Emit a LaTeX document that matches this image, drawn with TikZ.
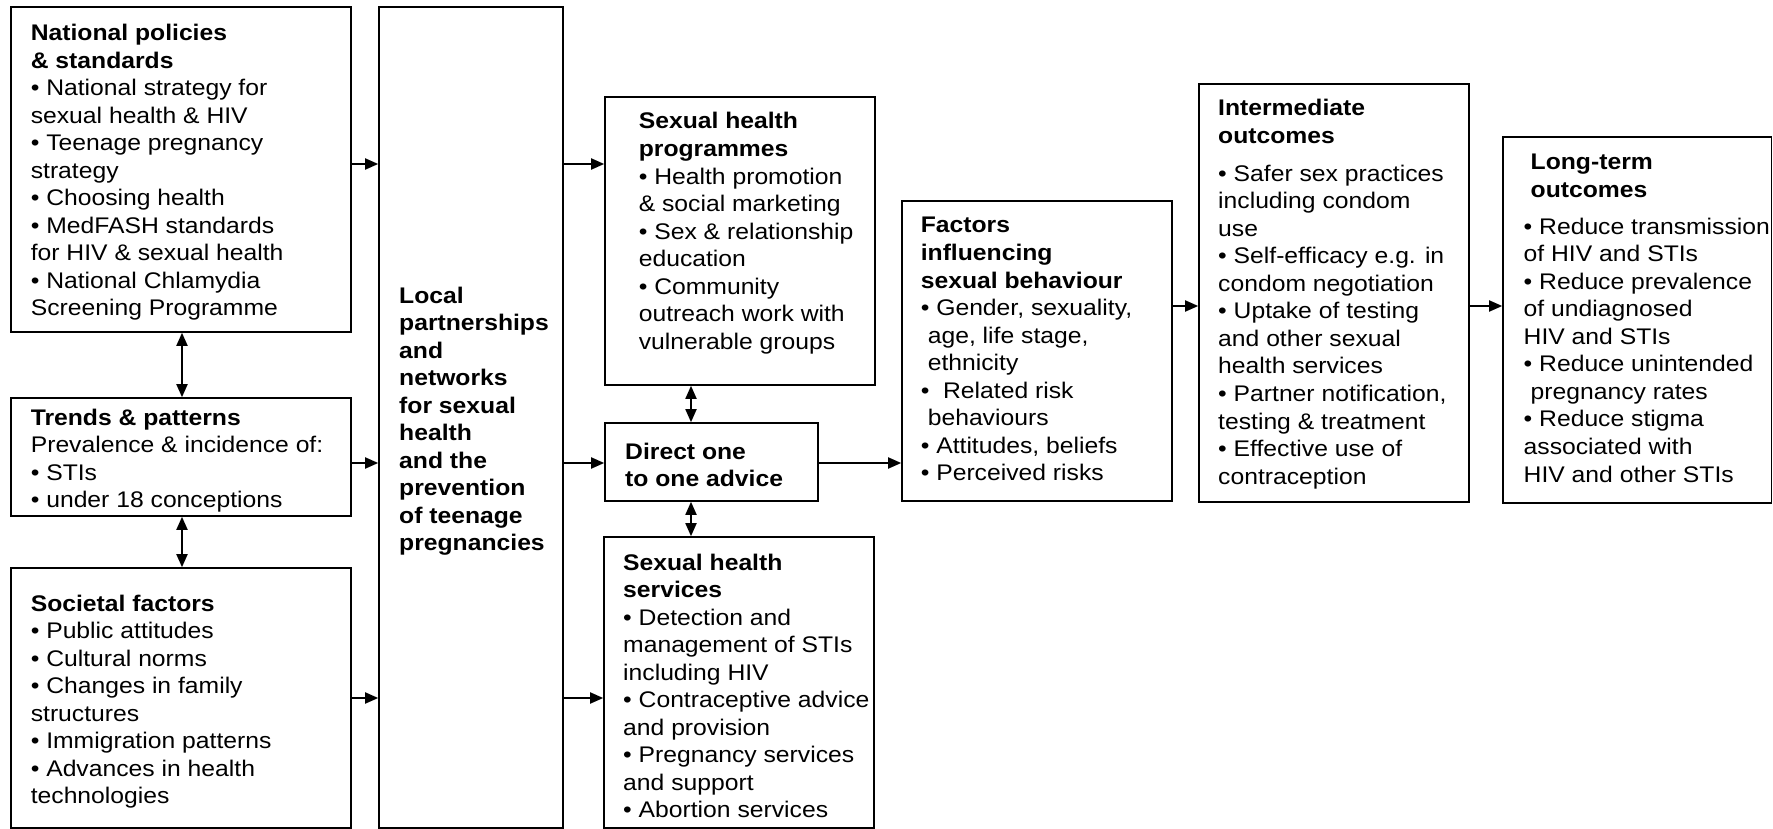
\documentclass[tikz,border=0pt]{standalone}
\usepackage{fontspec}
\setmainfont[FakeStretch=1.093]{Liberation Sans}
\usetikzlibrary{arrows.meta,fit}
\newcommand\blines[1]{\begin{tabular}[t]{@{}l@{}}#1\end{tabular}}
\begin{document}
\begin{tikzpicture}[x=1pt,y=-1pt,
  box/.style={draw, line width=1.6pt, inner sep=0pt},
  txt/.style={inner sep=0pt, anchor=base west, font=\fontsize{22.6}{27.55}\selectfont},
  arr/.style={line width=1.8pt, -{Triangle[length=13pt,width=11pt]}},
  darr/.style={line width=1.8pt, {Triangle[length=13pt,width=11pt]}-{Triangle[length=13pt,width=11pt]}}]
\useasboundingbox (0,0) rectangle (1773,829);
% boxes
\node[box, fit={(10.7,7) (351,332)}] (nat) {};
\node[box, fit={(379,7) (563,828)}] (loc) {};
\node[box, fit={(10.7,398) (351,516)}] (tre) {};
\node[box, fit={(10.7,568) (351,828)}] (soc) {};
\node[box, fit={(605,97) (875,385)}] (prog) {};
\node[box, fit={(605,423) (818,501)}] (dir) {};
\node[box, fit={(604,537) (874,828)}] (serv) {};
\node[box, fit={(902,201) (1172,501)}] (fac) {};
\node[box, fit={(1199,84) (1469,502)}] (inter) {};
\node[box, fit={(1503,137) (1771.5,503)}] (long) {};
% texts
\node[txt] (natT) at (30.6,40.5) {\blines{\textbf{National policies}\\ \textbf{\& standards}\\ • National strategy for\\ sexual health \& HIV\\ • Teenage pregnancy\\ strategy\\ • Choosing health\\ • MedFASH standards\\ for HIV \& sexual health\\ • National Chlamydia\\ Screening Programme}};
\node[txt] (treT) at (30.6,425) {\blines{\textbf{Trends \& patterns}\\ Prevalence \& incidence of:\\ • STIs\\ • under 18 conceptions}};
\node[txt] (socT) at (30.6,611) {\blines{\textbf{Societal factors}\\ • Public attitudes\\ • Cultural norms\\ • Changes in family\\ structures\\ • Immigration patterns\\ • Advances in health\\ technologies}};
\node[txt] (locT) at (399,303) {\blines{\textbf{Local}\\ \textbf{partnerships}\\ \textbf{and}\\ \textbf{networks}\\ \textbf{for sexual}\\ \textbf{health}\\ \textbf{and the}\\ \textbf{prevention}\\ \textbf{of teenage}\\ \textbf{pregnancies}}};
\node[txt] (progT) at (638.6,129) {\blines{\textbf{Sexual health}\\ \textbf{programmes}\\ • Health promotion\\ \& social marketing\\ • Sex \& relationship\\ education\\ • Community\\ outreach work with\\ vulnerable groups}};
\node[txt] (dirT) at (625,459) {\blines{\textbf{Direct one}\\ \textbf{to one advice}}};
\node[txt] (servT) at (623,570) {\blines{\textbf{Sexual health}\\ \textbf{services}\\ • Detection and\\ management of STIs\\ including HIV\\ • Contraceptive advice\\ and provision\\ • Pregnancy services\\ and support\\ • Abortion services}};
\node[txt] (facT) at (920.6,233) {\blines{\textbf{Factors}\\ \textbf{influencing}\\ \textbf{sexual behaviour}\\ • Gender, sexuality,\\ \hspace*{7pt}age, life stage,\\ \hspace*{7pt}ethnicity\\ •\ \ Related risk\\ \hspace*{7pt}behaviours\\ • Attitudes, beliefs\\ • Perceived risks}};
\node[txt] (interT) at (1218,116) {\blines{\textbf{Intermediate}\\ \textbf{outcomes}\\[10pt] • Safer sex practices\\ including condom\\ use\\ • Self-efficacy e.g. in\\ condom negotiation\\ • Uptake of testing\\ and other sexual\\ health services\\ • Partner notification,\\ testing \& treatment\\ • Effective use of\\ contraception}};
\node[txt] (longT) at (1523.5,170) {\blines{\hspace*{7pt}\textbf{Long-term}\\ \hspace*{7pt}\textbf{outcomes}\\[9pt] • Reduce transmission\\ of HIV and STIs\\ • Reduce prevalence\\ of undiagnosed\\ HIV and STIs\\ • Reduce unintended\\ \hspace*{7pt}pregnancy rates\\ • Reduce stigma\\ associated with\\ HIV and other STIs}};
% helper coordinates
\coordinate (yA) at (0,164);
\coordinate (yB) at (0,463);
\coordinate (yC) at (0,698);
\coordinate (yD) at (0,306);
\coordinate (xA) at (182,0);
\coordinate (xB) at (691,0);
% connectors
\draw[arr] (nat.east |- yA) -- (loc.west |- yA);
\draw[arr] (tre.east |- yB) -- (loc.west |- yB);
\draw[arr] (soc.east |- yC) -- (loc.west |- yC);
\draw[arr] (loc.east |- yA) -- (prog.west |- yA);
\draw[arr] (loc.east |- yB) -- (dir.west |- yB);
\draw[arr] (loc.east |- yC) -- (serv.west |- yC);
\draw[arr] (dir.east |- yB) -- (fac.west |- yB);
\draw[arr] (fac.east |- yD) -- (inter.west |- yD);
\draw[arr] (inter.east |- yD) -- (long.west |- yD);
\draw[darr] (xA |- nat.south) -- (xA |- tre.north);
\draw[darr] (xA |- tre.south) -- (xA |- soc.north);
\draw[darr] (xB |- prog.south) -- (xB |- dir.north);
\draw[darr] (xB |- dir.south) -- (xB |- serv.north);
\end{tikzpicture}
\end{document}
